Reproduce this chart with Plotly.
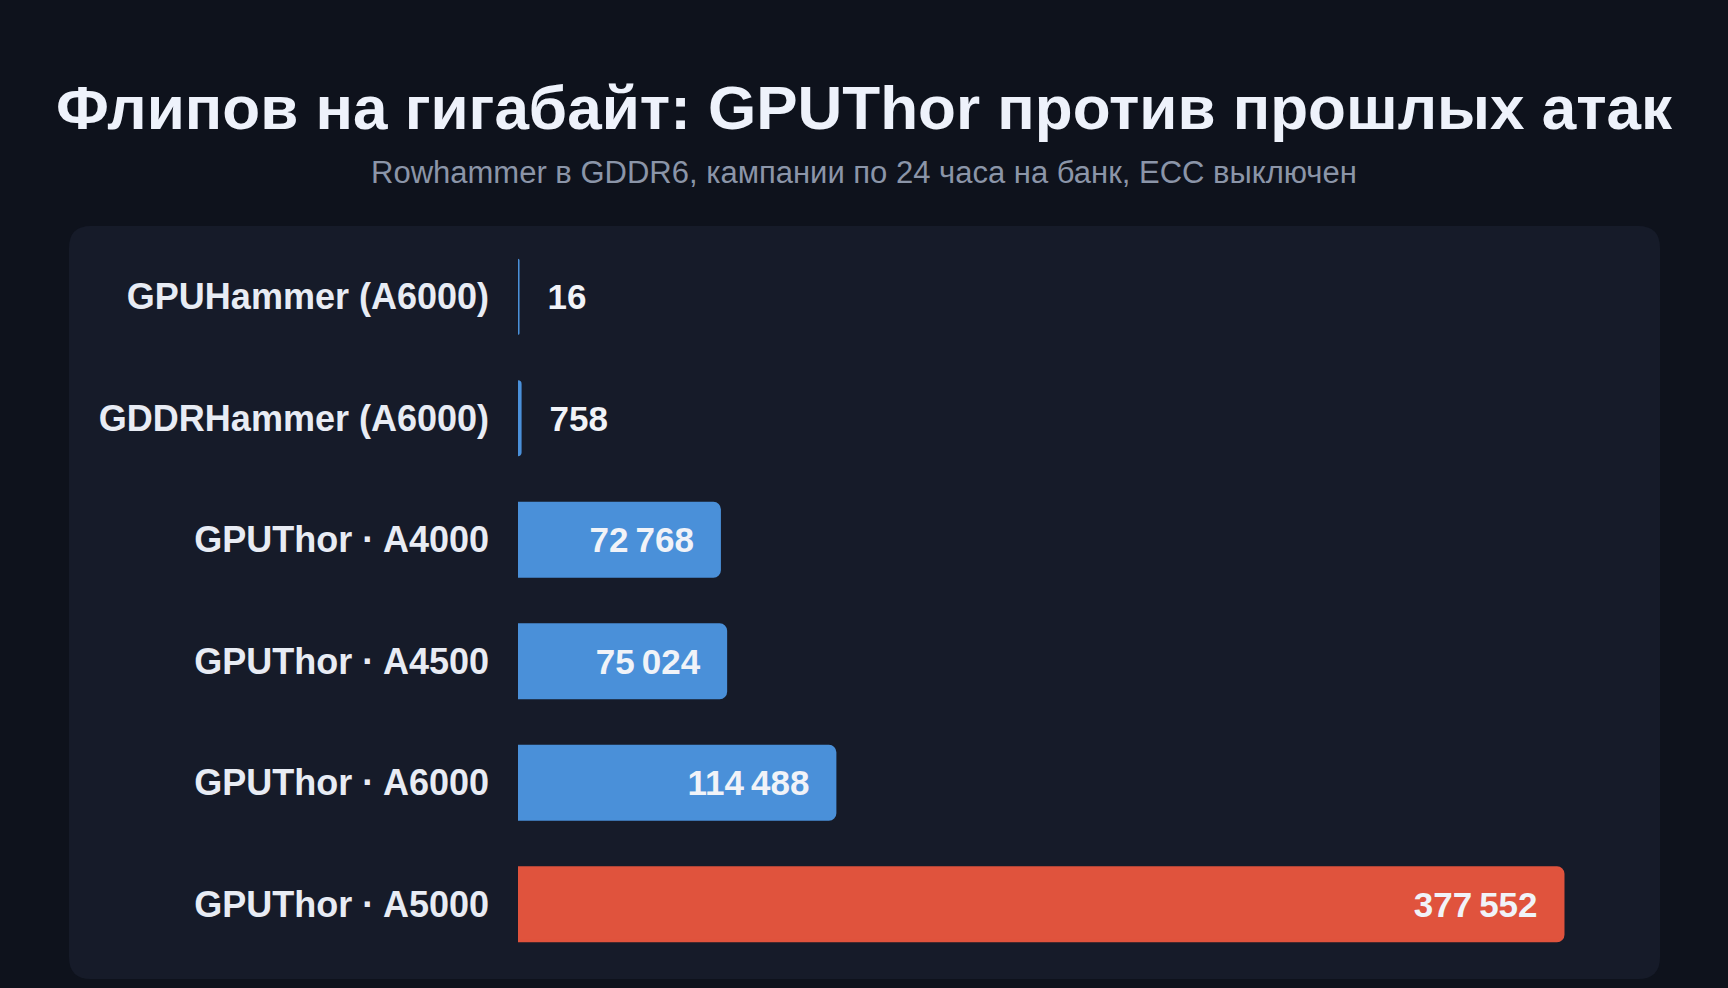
import plotly.graph_objects as go

# data
attacks = [
    "GPUHammer (A6000)",
    "GDDRHammer (A6000)",
    "GPUThor · A4000",
    "GPUThor · A4500",
    "GPUThor · A6000",
    "GPUThor · A5000",
]
flips_per_gb = [16, 758, 72768, 75024, 114488, 377552]
bar_colors = ["#4a90d9", "#4a90d9", "#4a90d9", "#4a90d9", "#4a90d9", "#e0533d"]
label_pos = ["outside", "outside", "inside", "inside", "inside", "inside"]

W, H = 1728, 988
ML, MR, MT, MB = 518, 68, 236, 23
plot_w = W - ML - MR
plot_h = H - MT - MB

NB = "\u00a0"
THIN = "\u2009"


def fmt(v, pos):
    s = f"{v:,}".replace(",", THIN)
    if pos == "outside":
        return NB * 2 + THIN + s
    return s + NB * 2


labels = [fmt(v, p) for v, p in zip(flips_per_gb, label_pos)]

fig = go.Figure(
    go.Bar(
        x=flips_per_gb,
        y=attacks,
        orientation="h",
        marker=dict(color=bar_colors, line=dict(color=bar_colors, width=3)),
        text=labels,
        textposition=label_pos,
        insidetextanchor="end",
        constraintext="none",
        textfont=dict(family="Liberation Sans", size=35, color="#f1f3f8", weight="bold"),
        cliponaxis=False,
        hoverinfo="skip",
    )
)

# rounded panel behind the chart, in paper units
px0, px1 = (69 - ML) / plot_w, (1660 - ML) / plot_w
py0, py1 = -(979 - (H - MB)) / plot_h, 1 + (MT - 226) / plot_h
rx, ry = 22 / plot_w, 22 / plot_h
panel = (
    f"M {px0 + rx} {py0} L {px1 - rx} {py0} Q {px1} {py0} {px1} {py0 + ry} "
    f"L {px1} {py1 - ry} Q {px1} {py1} {px1 - rx} {py1} "
    f"L {px0 + rx} {py1} Q {px0} {py1} {px0} {py1 - ry} "
    f"L {px0} {py0 + ry} Q {px0} {py0} {px0 + rx} {py0} Z"
)

fig.update_layout(
    width=W,
    height=H,
    margin=dict(l=ML, r=MR, t=MT, b=MB),
    paper_bgcolor="#0e121c",
    plot_bgcolor="rgba(0,0,0,0)",
    bargap=0.40,
    barcornerradius=6,
    showlegend=False,
    title=dict(
        text="Флипов на гигабайт: GPUThor против прошлых атак",
        x=0.5,
        xref="container",
        y=1 - 107 / H,
        yref="container",
        xanchor="center",
        yanchor="middle",
        font=dict(family="Liberation Sans", size=62, color="#eef2fb", weight="bold"),
    ),
    shapes=[
        dict(type="path", path=panel, xref="paper", yref="paper",
             fillcolor="#161b29", line=dict(width=0), layer="below")
    ],
    annotations=[
        dict(
            text="Rowhammer в GDDR6, кампании по 24 часа на банк, ECC выключен",
            xref="paper", yref="paper",
            x=(W / 2 - ML) / plot_w, y=(H - MB - 172) / plot_h,
            xanchor="center", yanchor="middle", showarrow=False,
            font=dict(family="Liberation Sans", size=31, color="#8b95a8"),
        )
    ],
    xaxis=dict(visible=False, range=[0, 412600], showgrid=False, zeroline=False),
    yaxis=dict(
        autorange="reversed",
        showgrid=False,
        zeroline=False,
        showline=False,
        ticks="",
        ticklabelstandoff=28,
        tickfont=dict(family="Liberation Sans", size=36, color="#e8ecf4", weight="bold"),
    ),
)

fig.write_html(
    "out.html",
    config={"displayModeBar": False},
    post_script="document.body.style.margin='0';document.body.style.background='#0e121c';",
)
